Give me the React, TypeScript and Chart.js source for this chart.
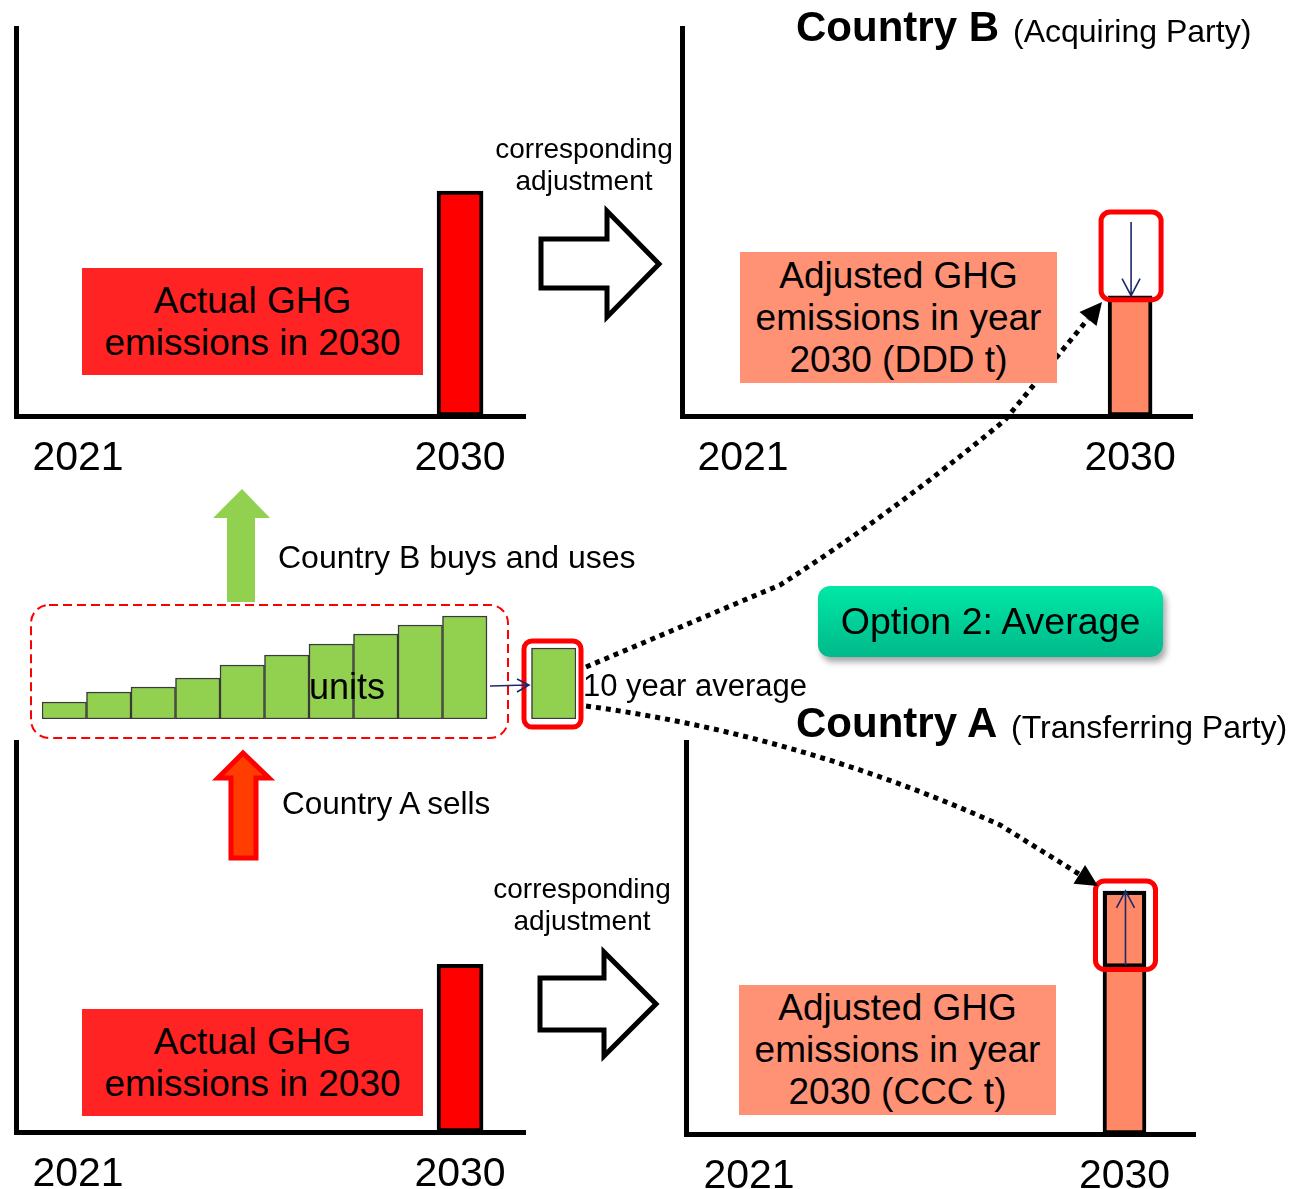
import React, { useEffect, useRef } from "react";
import { Chart, registerables } from "chart.js";

Chart.register(...registerables);

// ---------- data ----------
const tickYears = [2021, 2030];
const barYear = 2030;
// Country B (acquiring party)
const countryBActual2030 = 58;
const countryBAdjusted2030 = 31;
const countryBLevelBeforeAdjustment = 50;
// Country A (transferring party)
const countryAActual2030 = 43;
const countryAAdjusted2030 = 62;
const countryALevelBeforeAdjustment = 43;
// units transferred 2021..2030 and their 10 year average
const unitYears = ["2021", "2022", "2023", "2024", "2025", "2026", "2027", "2028", "2029", "2030"];
const unitValues = [17, 27, 32, 41, 54, 64, 75, 85, 94, 103];
const averageLabel = "10 year average";
const averageValue = 71;

const FONT = "'Liberation Sans', Arial, Helvetica, sans-serif";
const NAVY = "#1B2A6B";

// ---------- plugin drawing the corresponding adjustment marker ----------
const adjustPlugin = {
  id: "adjust",
  afterDatasetsDraw(chart: any, _args: any, opts: any) {
    if (!opts || opts.from == null) return;
    const bar: any = chart.getDatasetMeta(0).data[0];
    if (!bar) return;
    const ctx = chart.ctx;
    const fromPx = chart.scales.y.getPixelForValue(opts.from);
    const topPx = bar.y;
    const w = bar.width;
    const hi = Math.min(fromPx, topPx);
    const lo = Math.max(fromPx, topPx);
    ctx.save();
    if (fromPx > topPx) {
      ctx.strokeStyle = "#000";
      ctx.lineWidth = 4;
      ctx.strokeRect(bar.x - w / 2 + 2, topPx + 2, w - 4, fromPx - topPx - 2);
    }
    ctx.strokeStyle = "#FF0000";
    ctx.lineWidth = 5;
    ctx.beginPath();
    (ctx as any).roundRect(bar.x - 29, hi - 10, 60, lo - hi + 14, 9);
    ctx.stroke();
    // arrow from the earlier level to the adjusted level
    const ax = bar.x + 1;
    const dir = topPx > fromPx ? 1 : -1;
    ctx.strokeStyle = NAVY;
    ctx.lineWidth = 1.6;
    ctx.beginPath();
    ctx.moveTo(ax, fromPx);
    ctx.lineTo(ax, topPx);
    ctx.moveTo(ax - 9, topPx - dir * 17);
    ctx.lineTo(ax, topPx);
    ctx.lineTo(ax + 9, topPx - dir * 17);
    ctx.stroke();
    ctx.restore();
  },
};

type Area = { left: number; right: number; top: number; bottom: number };

function Panel(props: {
  area: Area;
  xMin: number;
  xMax: number;
  value: number;
  color: string;
  barW: number;
  from?: number;
}) {
  const ref = useRef<HTMLCanvasElement>(null);
  const padL = 12;
  const padR = 12;
  const padT = 10;
  const axisH = 56;
  const { area } = props;
  const cw = area.right - area.left + padL + padR;
  const ch = area.bottom - area.top + padT + axisH;
  useEffect(() => {
    const chart = new Chart(ref.current as HTMLCanvasElement, {
      type: "bar",
      data: {
        datasets: [
          {
            data: [{ x: barYear, y: props.value }] as any,
            backgroundColor: props.color,
            borderColor: "#000",
            borderWidth: 4,
            borderSkipped: false,
            barThickness: props.barW,
          } as any,
        ],
      },
      options: {
        animation: false,
        responsive: false,
        maintainAspectRatio: false,
        events: [],
        layout: { padding: { left: padL, right: padR, top: padT, bottom: 0 } },
        plugins: {
          legend: { display: false },
          tooltip: { enabled: false },
          adjust: props.from != null ? { from: props.from } : { from: null },
        } as any,
        scales: {
          x: {
            type: "linear",
            offset: false,
            min: props.xMin,
            max: props.xMax,
            grid: { display: false, drawTicks: false },
            border: { display: true, color: "#000", width: 5 },
            ticks: {
              color: "#000",
              font: { size: 41, family: FONT },
              padding: 18,
              maxRotation: 0,
              autoSkip: false,
              callback: (v: any) => String(v),
            },
            afterBuildTicks: (s: any) => {
              s.ticks = tickYears.map((v) => ({ value: v }));
            },
            afterFit: (s: any) => {
              s.height = axisH;
            },
          } as any,
          y: {
            min: 0,
            max: 100,
            grid: { display: false, drawTicks: false },
            border: { display: true, color: "#000", width: 5 },
            ticks: { display: false },
            afterFit: (s: any) => {
              s.width = 0;
            },
          } as any,
        },
      },
      plugins: [adjustPlugin as any],
    });
    return () => chart.destroy();
  }, []);
  return (
    <canvas
      ref={ref}
      width={cw}
      height={ch}
      style={{ position: "absolute", left: area.left - padL, top: area.top - padT, width: cw, height: ch }}
    />
  );
}

function UnitsChart() {
  const ref = useRef<HTMLCanvasElement>(null);
  useEffect(() => {
    const labels = [...unitYears, "", averageLabel];
    const chart = new Chart(ref.current as HTMLCanvasElement, {
      type: "bar",
      data: {
        labels,
        datasets: [
          {
            data: [...unitValues, null, null],
            backgroundColor: "#92D050",
            borderColor: "#3a3a3a",
            borderWidth: 1.5,
            borderSkipped: false,
            barPercentage: 1,
            categoryPercentage: 1,
            grouped: false,
          } as any,
          {
            data: [...unitYears.map(() => null), null, averageValue],
            backgroundColor: "#92D050",
            borderColor: "#3a3a3a",
            borderWidth: 1.5,
            borderSkipped: false,
            barPercentage: 1,
            categoryPercentage: 1,
            grouped: false,
          } as any,
        ],
      },
      options: {
        animation: false,
        responsive: false,
        maintainAspectRatio: false,
        events: [],
        layout: { padding: 10 },
        plugins: { legend: { display: false }, tooltip: { enabled: false } },
        scales: {
          x: { display: false },
          y: { display: false, min: 0, max: 110 },
        },
      },
    });
    return () => chart.destroy();
  }, []);
  return (
    <canvas
      ref={ref}
      width={554}
      height={130}
      style={{ position: "absolute", left: 32, top: 599, width: 554, height: 130 }}
    />
  );
}

function Txt(props: {
  x: number;
  base: number;
  size: number;
  bold?: boolean;
  align?: "left" | "center";
  children: React.ReactNode;
}) {
  const top = props.base - 0.8465 * props.size;
  const center = props.align === "center";
  return (
    <div
      style={{
        position: "absolute",
        left: center ? props.x - 400 : props.x,
        width: center ? 800 : undefined,
        top,
        fontSize: props.size,
        lineHeight: props.size + "px",
        fontWeight: props.bold ? "bold" : "normal",
        textAlign: center ? "center" : "left",
        whiteSpace: "nowrap",
        color: "#000",
      }}
    >
      {props.children}
    </div>
  );
}

function LabelBox(props: { l: number; t: number; w: number; h: number; bg: string; lines: string[]; lh: number }) {
  return (
    <div
      style={{
        position: "absolute",
        left: props.l,
        top: props.t,
        width: props.w,
        height: props.h,
        background: props.bg,
        display: "flex",
        flexDirection: "column",
        justifyContent: "center",
        alignItems: "center",
        fontSize: 37,
        color: "#000",
      }}
    >
      {props.lines.map((s, i) => (
        <div key={i} style={{ lineHeight: props.lh + "px", whiteSpace: "nowrap" }}>
          {s}
        </div>
      ))}
    </div>
  );
}

export default function App() {
  return (
    <div
      style={{
        position: "absolute",
        left: 0,
        top: 0,
        width: 1290,
        height: 1189,
        overflow: "hidden",
        background: "#fff",
        fontFamily: FONT,
      }}
    >
      <Panel area={{ left: 16, right: 525, top: 28, bottom: 416 }} xMin={2019.54} xMax={2031.53} value={countryBActual2030} color="#FF0000" barW={46} />
      <Panel area={{ left: 682, right: 1192, top: 28, bottom: 416 }} xMin={2019.58} xMax={2031.44} value={countryBAdjusted2030} color="#FF8866" barW={44} from={countryBLevelBeforeAdjustment} />
      <Panel area={{ left: 16, right: 525, top: 742, bottom: 1132 }} xMin={2019.54} xMax={2031.53} value={countryAActual2030} color="#FF0000" barW={46} />
      <Panel area={{ left: 686, right: 1195, top: 742, bottom: 1134 }} xMin={2019.49} xMax={2031.69} value={countryAAdjusted2030} color="#FF8866" barW={43} from={countryALevelBeforeAdjustment} />
      <UnitsChart />

      <svg width={1290} height={1189} style={{ position: "absolute", left: 0, top: 0 }}>
        {/* corresponding adjustment arrows */}
        <polygon points="541,239 607,239 607,211 659,264 607,317 607,288 541,288" fill="#fff" stroke="#000" strokeWidth={5} />
        <polygon points="540,978 604,978 604,952 656,1004 604,1056 604,1030 540,1030" fill="#fff" stroke="#000" strokeWidth={5} />
        {/* buys / sells arrows */}
        <polygon points="227,602 227,518 213,518 242,489 270,518 255,518 255,602" fill="#92D050" />
        <polygon points="231,858 231,778 218,778 243,753 269,778 256,778 256,858" fill="#FF3D00" stroke="#FF0000" strokeWidth={5} />
        {/* units group */}
        <rect x={31} y={605} width={477} height={133} rx={18} fill="none" stroke="#FF0000" strokeWidth={2} strokeDasharray="9 5" />
        <rect x={524} y={641} width={57} height={86} rx={8} fill="none" stroke="#FF0000" strokeWidth={5} />
        <path d="M490 686 L529 685 M517 679 L529 685 L517 692" fill="none" stroke={NAVY} strokeWidth={1.6} />
        {/* dotted links */}
        <path d="M586 667 L780 585 Q890 515 1005 420 L1088 319" fill="none" stroke="#000" strokeWidth={5} strokeDasharray="5 5" />
        <polygon points="1102,302 1096.5,326 1079.5,312" fill="#000" />
        <path d="M586 706 Q800 735 1000 825 L1079 874" fill="none" stroke="#000" strokeWidth={5} strokeDasharray="5 5" />
        <polygon points="1098,886 1073.5,883.7 1085.1,865.1" fill="#000" />
      </svg>

      <LabelBox l={82} t={268} w={341} h={107} bg="#FF2323" lh={42} lines={["Actual GHG", "emissions in 2030"]} />
      <LabelBox l={82} t={1009} w={341} h={107} bg="#FF2323" lh={42} lines={["Actual GHG", "emissions in 2030"]} />
      <LabelBox l={740} t={252} w={317} h={131} bg="#FF9175" lh={42} lines={["Adjusted GHG", "emissions in year", "2030 (DDD t)"]} />
      <LabelBox l={739} t={985} w={317} h={130} bg="#FF9175" lh={42} lines={["Adjusted GHG", "emissions in year", "2030 (CCC t)"]} />

      <div
        style={{
          position: "absolute",
          left: 818,
          top: 586,
          width: 345,
          height: 71,
          borderRadius: 12,
          background: "linear-gradient(#00E8A6, #00B98A)",
          boxShadow: "3px 5px 6px rgba(0,0,0,0.35)",
          display: "flex",
          alignItems: "center",
          justifyContent: "center",
          fontSize: 37.5,
          color: "#000",
        }}
      >
        Option 2: Average
      </div>

      <Txt x={584} base={159} size={28} align="center">corresponding</Txt>
      <Txt x={584} base={191} size={28} align="center">adjustment</Txt>
      <Txt x={582} base={899} size={28} align="center">corresponding</Txt>
      <Txt x={582} base={931} size={28} align="center">adjustment</Txt>
      <Txt x={278} base={568} size={32}>Country B buys and uses</Txt>
      <Txt x={282} base={815} size={31.5}>Country A sells</Txt>
      <Txt x={347} base={699} size={36} align="center">units</Txt>
      <Txt x={583} base={696} size={31}>10 year average</Txt>
      <Txt x={796} base={42} size={42} bold>Country B</Txt>
      <Txt x={1013} base={42} size={32}>(Acquiring Party)</Txt>
      <Txt x={796} base={738} size={42} bold>Country A</Txt>
      <Txt x={1011} base={738} size={32}>(Transferring Party)</Txt>
    </div>
  );
}
